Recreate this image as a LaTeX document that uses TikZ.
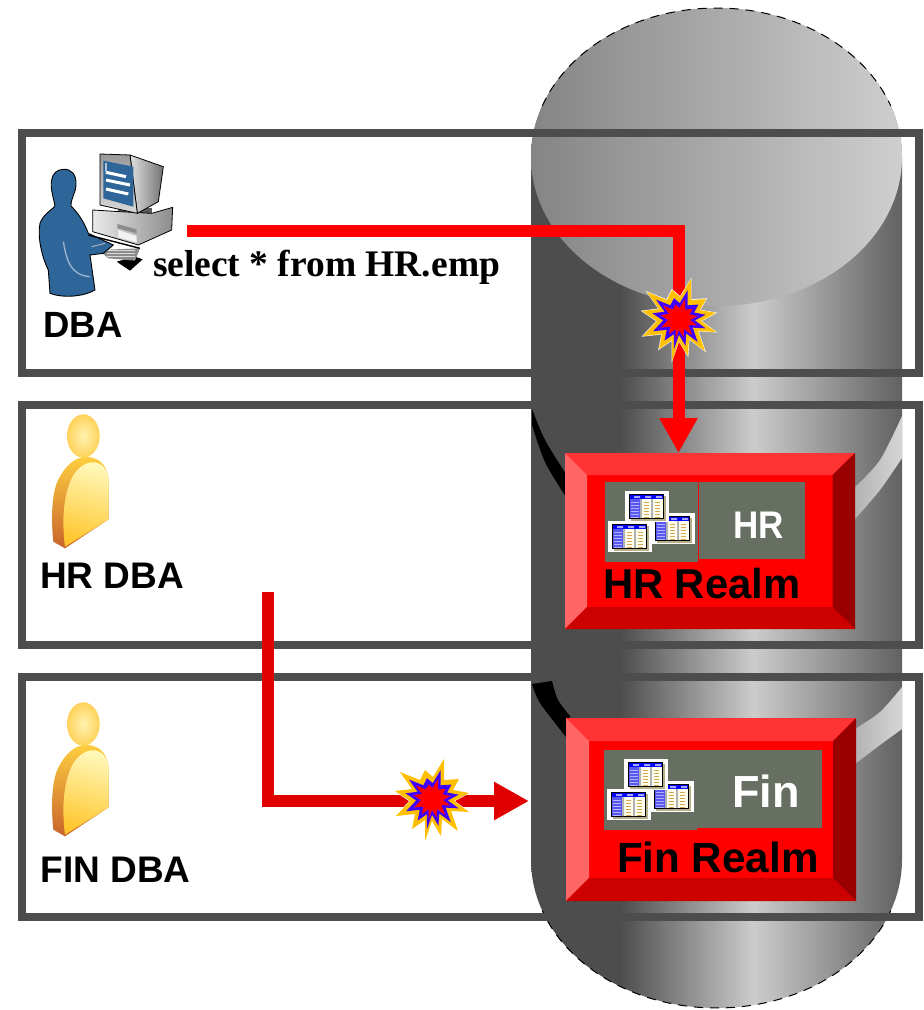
\documentclass[tikz,border=0pt]{standalone}
\usepackage{fontspec}
\setmainfont{Liberation Sans}
\newfontfamily\timesface{Liberation Serif}
\usetikzlibrary{arrows.meta}
\definecolor{framegray}{HTML}{4D4D4D}
\definecolor{panelgray}{HTML}{666F62}
\definecolor{bevtop}{HTML}{FF3333}
\definecolor{bevleft}{HTML}{FF6666}
\definecolor{bevright}{HTML}{990000}
\definecolor{bevbottom}{HTML}{CC0000}
\definecolor{burstyellow}{HTML}{FFC000}
\definecolor{burstblue}{HTML}{4000FF}
\definecolor{arrowred}{HTML}{E00000}
\definecolor{dbablue}{HTML}{2F6699}
\definecolor{tcream}{HTML}{FFFFF0}
\definecolor{tshadow}{HTML}{B8B088}
\definecolor{ttan}{HTML}{D8A850}
\definecolor{tstripe}{HTML}{5858F0}
\definecolor{headin}{HTML}{FFF3B0}
\definecolor{headout}{HTML}{FFD25A}
\definecolor{bodylight}{HTML}{FFF8B8}
\definecolor{bodygold}{HTML}{FFC62E}
\definecolor{sidegold}{HTML}{FFD040}
\definecolor{sidedark}{HTML}{C8642C}
\pgfdeclarehorizontalshading{cylbody}{100bp}{color(0bp)=(framegray);color(37bp)=(framegray);color(55bp)=(black!20);color(75bp)=(black!62);color(100bp)=(black!62)}
\pgfdeclarehorizontalshading{cyltop}{100bp}{color(0bp)=(black!48);color(25bp)=(black!48);color(75bp)=(black!19);color(100bp)=(black!19)}
\pgfdeclarehorizontalshading{crescent}{100bp}{color(0bp)=(black!16);color(25bp)=(black!30);color(75bp)=(black!16);color(100bp)=(black!16)}
\def\burstpoly{(-32,-27)--(-12,-19)--(-7,-29)--(1,-22)--(12,-40)--(12,-19)--(27,-20)--(21,-9)--(37,-6)--(22,2)--(37,13)--(19,12)--(26,32)--(10,20)--(9,37)--(0,22)--(-7,42)--(-7,21)--(-20,30)--(-17,15)--(-36,17)--(-22,2)--(-37,-8)--(-20,-10)--cycle}
\tikzset{
  x=1pt,y=-1pt,
  framebox/.style={draw=framegray,line width=8pt,inner sep=0pt,outer sep=0pt,minimum width=896.5pt,minimum height=240pt},
  realmouter/.style={fill=red,inner sep=0pt,outer sep=0pt},
  realminner/.style={fill=red,inner sep=0pt,outer sep=0pt},
  panel/.style={fill=panelgray,inner sep=0pt,outer sep=0pt},
  redline/.style={line width=12pt,line join=miter},
  bigtip/.style={-{Triangle[length=35pt,width=36pt]}},
  label/.style={inner sep=0pt,outer sep=0pt,anchor=base west,text=black,font=\bfseries\fontsize{37}{40}\selectfont},
  realmlabel/.style={label,font=\bfseries\fontsize{41.8}{44}\selectfont},
  tableicon/.pic={
    \fill[white] (0,0) rectangle (44,31);
    \fill[tshadow] (6,5) rectangle (41,30);
    \fill[black] (4,3) rectangle (39,28);
    \fill[tcream] (5,4) rectangle (38,27);
    \fill[tstripe] (5,8) rectangle (15,27);
    \fill[blue] (5,4) rectangle (38,8);
    \fill[blue!35] (9,5) rectangle (15,7) (20,5) rectangle (26,7) (31,5) rectangle (37,7);
    \fill[black!30] (15,8) rectangle (17,27) (26,8) rectangle (28,27);
    \foreach \r in {11,14,17,20,23,26}{
      \draw[white!70!blue,line width=.7pt] (6,\r) -- (14,\r);
      \draw[ttan,line width=1pt] (19,\r) -- (24,\r) (30,\r) -- (35,\r);
    }
  },
  burstpic/.pic={
    \fill[white] [scale=1.04] \burstpoly;
    \fill[burstyellow] \burstpoly;
    \fill[burstblue] [scale=.72] \burstpoly;
    \fill[red] [scale=.5] \burstpoly;
  },
  personpic/.pic={
    \begin{scope}[scale=1/3]
      \shade[top color=sidegold,bottom color=sidedark] (100,425) .. controls (95,380) and (92,300) .. (110,250) .. controls (125,215) and (150,180) .. (185,172) .. controls (230,165) and (262,190) .. (266,240) -- (266,358) -- (135,445) -- cycle;
      \shade[top color=bodylight,bottom color=bodygold,shading angle=-15] (135,440) .. controls (125,360) and (130,290) .. (155,235) .. controls (175,195) and (210,180) .. (235,190) .. controls (258,200) and (266,220) .. (266,245) -- (266,358) -- cycle;
      \shade[inner color=headin,outer color=headout] (190,108) ellipse [x radius=49,y radius=65];
    \end{scope}
  },
  dbapic/.pic={
    \begin{scope}[scale=1/3]
      \fill[black] (290,395) -- (330,422) -- (368,388) -- (345,380) -- cycle;
      \fill[black!45] (235,360) -- (360,355) -- (345,392) -- (265,385) -- cycle;
      \foreach \r in {362,370,378}{\draw[black!15,line width=.8pt] (262,\r) -- (345,\r);}
      \fill[black!65] (295,235) -- (395,235) -- (395,262) -- (295,262) -- cycle;
      \shade[left color=black!8,right color=black!45,draw=black,line width=.8pt] (218,240) -- (300,245) -- (395,250) -- (458,232) -- (455,300) -- (355,345) -- (218,305) -- cycle;
      \fill[black!45] (292,282) -- (350,298) -- (350,310) -- (292,295) -- cycle;
      \fill[black!5] (295,300) -- (350,318) -- (350,338) -- (295,322) -- cycle;
      \shade[left color=black!12,right color=black!55,draw=black,line width=.8pt] (330,75) -- (430,110) -- (415,215) -- (352,250) -- cycle;
      \shade[top color=black!40,bottom color=black!15,draw=black,line width=.8pt] (240,72) -- (330,75) -- (352,250) -- (240,225) -- cycle;
      \fill[dbablue] (250,92) -- (340,110) -- (340,230) -- (250,205) -- cycle;
      \draw[white,line width=3pt] (258,127) -- (318,140) (258,150) -- (330,165) (258,177) -- (325,192);
      \draw[white!60!dbablue,line width=1.5pt] (258,100) -- (258,125);
      \fill[dbablue,draw=black,line width=.9pt] (130,118) .. controls (155,116) and (170,135) .. (168,165) .. controls (167,190) and (152,205) .. (153,228) .. controls (170,245) and (190,270) .. (205,310) -- (280,345) -- (250,370) -- (210,375) -- (225,480) .. controls (190,500) and (130,505) .. (90,490) -- (85,420) .. controls (65,380) and (52,320) .. (60,280) .. controls (68,255) and (95,240) .. (105,228) .. controls (100,200) and (90,175) .. (95,150) .. controls (98,130) and (112,118) .. (130,118) -- cycle;
      \draw[black,line width=1.4pt] (205,315) -- (360,355);
      \draw[dbablue!50!white,line width=1.4pt] (130,335) .. controls (140,390) and (150,435) .. (210,440);
      \draw[white!70!black,line width=1pt] (215,350) -- (255,340);
    \end{scope}
  },
}
\newcommand{\bevels}[2]{%
  \fill[bevtop] (#1.north west) -- (#1.north east) -- (#2.north east) -- (#2.north west) -- cycle;
  \fill[bevleft] (#1.north west) -- (#1.south west) -- (#2.south west) -- (#2.north west) -- cycle;
  \fill[bevright] (#1.north east) -- (#1.south east) -- (#2.south east) -- (#2.north east) -- cycle;
  \fill[bevbottom] (#1.south west) -- (#1.south east) -- (#2.south east) -- (#2.south west) -- cycle;
}
\begin{document}
\begin{tikzpicture}[x=1pt,y=-1pt]
\useasboundingbox (0,0) rectangle (924,1010);
\fill[white] (0,0) rectangle (924,1010);
% cylinder body
\shade[shading=cylbody] plot[domain=180:360,samples=60] ({716.5+185.5*cos(\x)},{157+149*sin(\x)}) -- plot[domain=0:180,samples=60] ({716.5+185.5*cos(\x)},{860+148*sin(\x)}) -- cycle;
% crescents
\fill[black] plot[smooth] coordinates {(532,409) (545,440) (566,474)} -- plot[smooth] coordinates {(566,497) (545,462) (532,425)} -- cycle;
\shade[shading=crescent] plot[smooth] coordinates {(855,487) (880,460) (902,416)} -- plot[smooth] coordinates {(902,458) (880,490) (855,519)} -- cycle;
\fill[black] plot[smooth] coordinates {(552,681) (558,700) (570,716)} -- (566,737) -- plot[smooth] coordinates {(566,737) (540,703) (532,684)} -- cycle;
\shade[shading=crescent] plot[smooth] coordinates {(855,729) (880,712) (902,687)} -- plot[smooth] coordinates {(902,729) (880,745) (855,764)} -- cycle;
% cylinder top
\shade[shading=cyltop] (716.5,157) ellipse [x radius=185.5,y radius=149];
% cylinder outline
\draw[black,line width=1pt,dash pattern=on 9pt off 7pt] plot[domain=200:340,samples=60] ({716.5+185.5*cos(\x)},{157+149*sin(\x)});
\draw[black,line width=1pt,dash pattern=on 9pt off 7pt] plot[domain=20:160,samples=60] ({716.5+185.5*cos(\x)},{860+148*sin(\x)});
% frames
\node[framebox] (dbabox) at (470.25,253) {};
\node[framebox] (hrbox) at (470.25,524.5) {};
\node[framebox] (finbox) at (470.25,796.5) {};
% HR realm
\node[realmouter,minimum width=290pt,minimum height=176pt] (hrrealm) at (710,541) {};
\node[realminner,minimum width=245.5pt,minimum height=132pt] (hrinner) at (709.75,541) {};
\bevels{hrrealm}{hrinner}
\node[panel,minimum width=93pt,minimum height=80pt] (hrpanelL) at (651.5,522) {};
\node[panel,minimum width=106pt,minimum height=77pt] (hrpanelR) at (752,520.5) {};
\pic at (651,513) {tableicon};
\pic at (625,491) {tableicon};
\pic at (608,521) {tableicon};
\node[label,text=white,font=\bfseries\fontsize{35}{38}\selectfont,yscale=1.1] (hrname) at (733,538) {HR};
\node[realmlabel] (hrlabel) at (603,598) {HR Realm};
% Fin realm
\node[realmouter,minimum width=290pt,minimum height=183pt] (finrealm) at (711,809.5) {};
\node[realminner,minimum width=244pt,minimum height=137pt] (fininner) at (711,809.5) {};
\bevels{finrealm}{fininner}
\node[panel,minimum width=218pt,minimum height=78pt] (finpanel) at (713,789) {};
\node[panel,minimum width=93pt,minimum height=4pt] (finpanelL) at (650.5,828) {};
\pic at (650,781) {tableicon};
\pic at (624,759) {tableicon};
\pic at (607,789) {tableicon};
\node[label,text=white,font=\bfseries\fontsize{45}{48}\selectfont] (finname) at (732,807) {Fin};
\node[realmlabel,font=\bfseries\fontsize{42.2}{44}\selectfont] (finlabel) at (617,872) {Fin Realm};
% icons and labels
\pic at (20,130) {dbapic};
\pic at (20,400) {personpic};
\pic at (20,688) {personpic};
\node[label,font=\bfseries\fontsize{36.5}{40}\selectfont] (dbalabel) at (43.5,337) {DBA};
\node[label] (hrdbalabel) at (40,588) {HR DBA};
\node[label] (findbalabel) at (40.5,882) {FIN DBA};
\node[label,font=\timesface\bfseries\fontsize{37.5}{40}\selectfont] (sql) at (153,276) {select * from HR.emp};
% connectors
\coordinate (qstart) at (187,231);
\coordinate (qcorner) at (678.5,231);
\coordinate (hrstart) at (268,592);
\coordinate (hrcorner) at (268,801);
\coordinate (cylwest) at (529,801);
\draw[redline,red,bigtip] (qstart) -- (qcorner) -- (qcorner |- hrrealm.north);
\draw[redline,arrowred,bigtip] (hrstart) -- (hrcorner) -- (cylwest);
\pic at (679,319) {burstpic};
\pic at (432,799) {burstpic};
\end{tikzpicture}
\end{document}
